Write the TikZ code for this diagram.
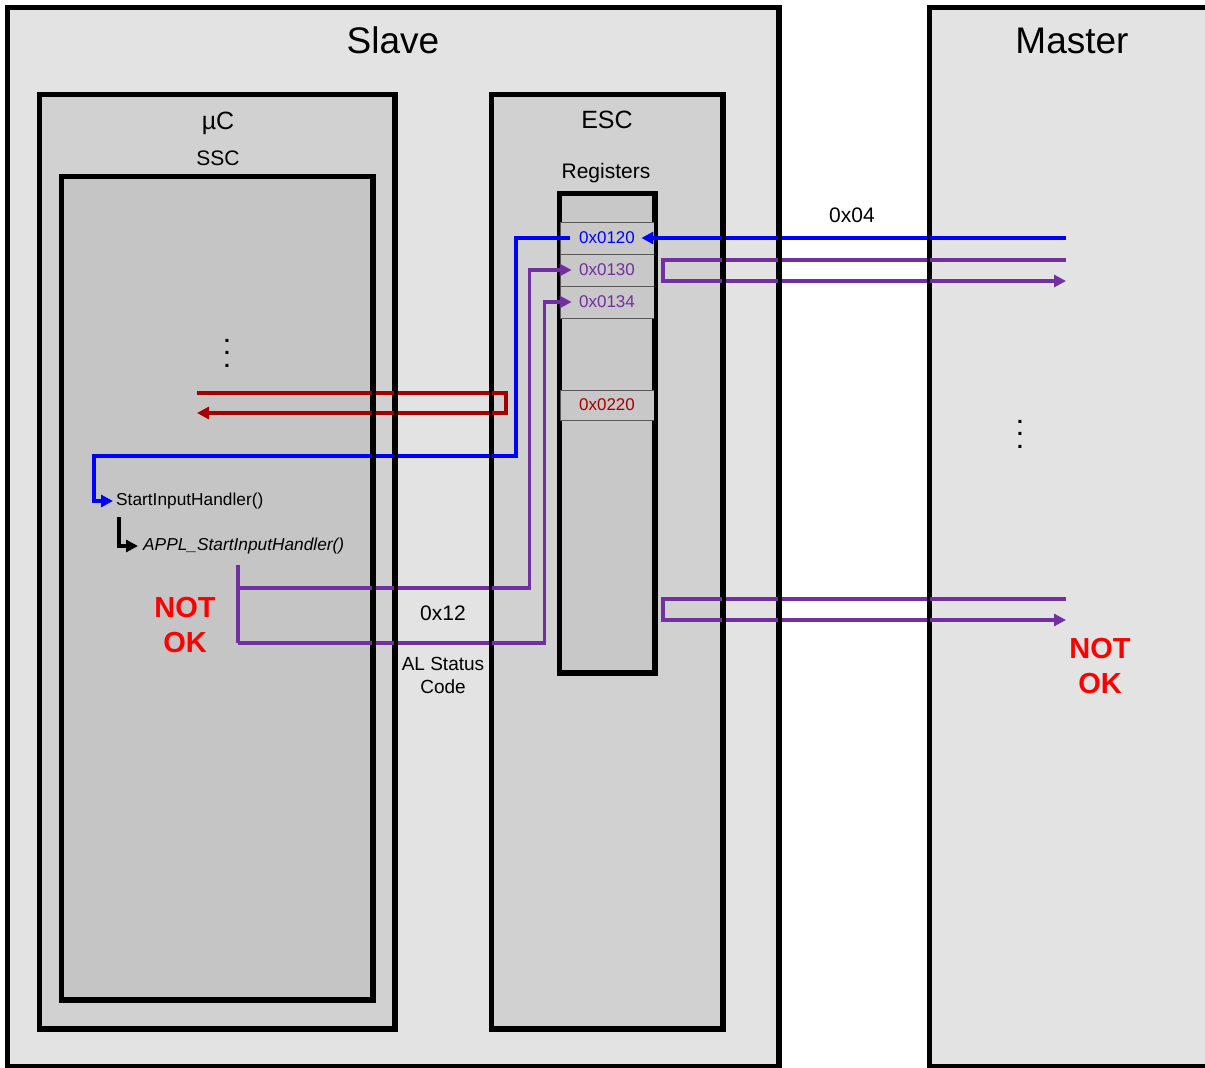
\documentclass[tikz,border=0pt]{standalone}
\usepackage{fontspec}
\setmainfont{Liberation Sans}
\usetikzlibrary{arrows.meta}
\definecolor{slavegray}{RGB}{227,227,227}
\definecolor{escgray}{RGB}{209,209,209}
\definecolor{sscgray}{RGB}{197,197,197}
\definecolor{reggray}{RGB}{200,200,200}
\definecolor{sigblue}{RGB}{0,0,255}
\definecolor{sigpurple}{RGB}{112,48,160}
\definecolor{sigred}{RGB}{165,0,0}
\definecolor{notok}{RGB}{255,0,0}

\begin{document}
\begin{tikzpicture}[x=1pt, y=-1pt,
  blk/.style={draw, line width=3.5pt, fill=#1, inner sep=0pt},
  row/.style={draw=black!65, line width=0.8pt, fill=reggray, minimum width=94pt,
              minimum height=32pt, inner sep=0pt, font=\fontsize{17}{20}\selectfont, text=#1},
  sig/.style={line width=3.5pt, draw=#1, -{Triangle[length=12pt,width=12pt]}},
  rim/.style={draw, line width=3.5pt},
  ttl/.style={font=\fontsize{37}{40}\selectfont, anchor=base, inner sep=0pt},
  hdr/.style={font=\fontsize{25}{30}\selectfont, anchor=base, inner sep=0pt},
  sub/.style={font=\fontsize{21}{25}\selectfont, anchor=base, inner sep=0pt},
  fn/.style={font=\fontsize{17.3}{20}\selectfont, anchor=west, inner sep=0pt},
  note/.style={font=\fontsize{21}{23}\selectfont, align=center, inner sep=0pt},
  bad/.style={font=\fontsize{29}{35}\selectfont\bfseries, text=notok, align=center, inner sep=0pt},
  dots/.style={font=\fontsize{21}{12.5}\selectfont\bfseries, align=center, inner sep=0pt},
]
\useasboundingbox (0,0) rectangle (1205,1068);

%% Boxes
\node[blk=slavegray, minimum width=770pt, minimum height=1058pt] (slave)  at (393,537)    {};
\node[blk=slavegray, minimum width=290pt, minimum height=1058pt] (master) at (1075,537)   {};
\node[blk=escgray,   minimum width=354pt, minimum height=933pt]  (uc)     at (217,561.5)  {};
\node[blk=sscgray,   minimum width=310pt, minimum height=822pt]  (ssc)    at (217,588)    {};
\node[blk=escgray,   minimum width=230pt, minimum height=933pt]  (esc)    at (607,561.5)  {};
\node[blk=reggray,   minimum width=94pt,  minimum height=478pt]  (regs)   at (607,433)    {};

%% Register rows
\node[row=sigblue]                       (r120) at (607,238) {0x0120};
\node[row=sigpurple]                     (r130) at (607,270) {0x0130};
\node[row=sigpurple]                     (r134) at (607,302) {0x0134};
\node[row=sigred, minimum height=30pt]   (r220) at (607,405) {0x0220};
\draw[rim] (regs.north west) rectangle (regs.south east);

%% Titles
\node[ttl] (slaveT)  at (393,53)  {Slave};
\node[ttl] (masterT) at (1072,53) {Master};
\node[hdr] (ucT)     at (218,129) {µC};
\node[sub] (sscT)    at (218,165) {SSC};
\node[hdr] (escT)    at (607,128) {ESC};
\node[sub] (regT)    at (606,178) {Registers};

%% Texts
\node[note] (hex04) at (852,215) {0x04};
\node[note] (hex12) at (443,613) {0x12};
\node[note, font=\fontsize{19}{23}\selectfont] (alsc) at (443,675) {AL Status\\Code};
\node[bad]  (nokL)  at (185,625)  {NOT\\OK};
\node[bad]  (nokR)  at (1100,666) {NOT\\OK};
\node[dots] (dotsL) at (227,353)  {.\\.\\.};
\node[dots] (dotsR) at (1020,434) {.\\.\\.};
\node[fn] (sih)  at (116,501) {StartInputHandler()};
\node[fn, font=\fontsize{17.3}{20}\selectfont\itshape] (appl) at (143,546) {APPL\_StartInputHandler()};

%% Free ends
\coordinate (mBlue) at (1066,238);
\coordinate (mA1)   at (1066,260);
\coordinate (mA2)   at (1066,281);
\coordinate (mB1)   at (1066,599);
\coordinate (mB2)   at (1066,620);
\coordinate (rdA)   at (197,393);
\coordinate (rdB)   at (197,413);
\coordinate (tap)   at (238,565);
\coordinate (tapA)  at (238,588);
\coordinate (tapB)  at (238,643);

%% Signals
\draw[sig=sigblue] (mBlue) -- ([xshift=-13pt]r120.east);
\draw[sig=sigblue] ([xshift=10pt]r120.west) -| (516,456) -| ([xshift=-22pt]sih.west) -- ([xshift=-3pt]sih.west);
\draw[sig=sigpurple] (mA1) -- (663,260) |- (mA2);
\draw[sig=sigpurple] (mB1) -- (663,599) |- (mB2);
\draw[sig=sigred] (rdA) -| (506,413) -- (rdB);
\draw[sig=black] ([xshift=3pt,yshift=-8pt]sih.south west) |- ([xshift=-5pt]appl.west);
\draw[line width=3.5pt, draw=sigpurple] (tap) -- (tapB);
\draw[sig=sigpurple] (tapA) -| ([xshift=-30pt]r130.west) -- ([xshift=12pt]r130.west);
\draw[sig=sigpurple] (tapB) -| ([xshift=-15pt]r134.west) -- ([xshift=12pt]r134.west);

%% Borders over the signals
\foreach \b in {slave,master,uc,ssc,esc}
  \draw[rim] (\b.north west) rectangle (\b.south east);

\end{tikzpicture}
\end{document}
